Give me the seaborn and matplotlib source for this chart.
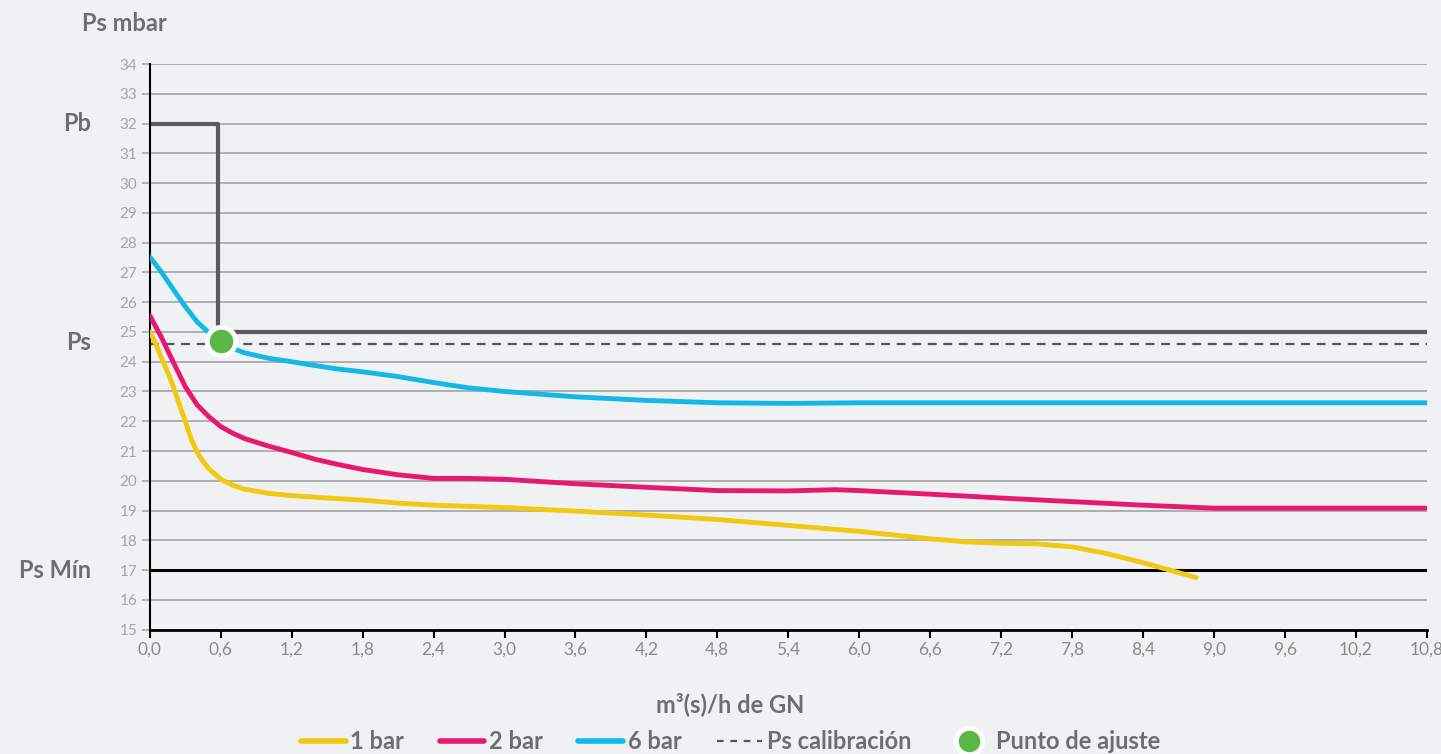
import numpy as np
import pandas as pd
import matplotlib
matplotlib.use("Agg")
import matplotlib.pyplot as plt
import seaborn as sns
from matplotlib.lines import Line2D

# caudal (m3/h) vs presion de salida (mbar)
x_1bar = [0.0, 0.05, 0.1, 0.15, 0.2, 0.25, 0.3, 0.35, 0.4, 0.45, 0.5, 0.6, 0.7, 0.8, 1.0, 1.2, 1.5, 1.8, 2.1,
          2.4, 3.0, 3.6, 4.2, 4.8, 5.4, 6.0, 6.6, 6.9, 7.2, 7.5, 7.8, 8.1, 8.4, 8.85]
y_1bar = [25.0, 24.6, 24.1, 23.65, 23.15, 22.55, 22.0, 21.4, 20.95, 20.65, 20.4, 20.05, 19.85, 19.72, 19.58,
          19.5, 19.42, 19.35, 19.25, 19.18, 19.1, 18.98, 18.85, 18.7, 18.5, 18.3, 18.05, 17.95, 17.9, 17.88,
          17.78, 17.55, 17.25, 16.75]

x_2bar = [0.0, 0.1, 0.2, 0.3, 0.4, 0.5, 0.6, 0.7, 0.8, 1.0, 1.2, 1.4, 1.6, 1.8, 2.1, 2.4, 2.7, 3.0, 3.6, 4.2,
          4.8, 5.4, 5.8, 6.0, 6.6, 7.2, 7.8, 8.4, 9.0, 9.6, 10.2, 10.8]
y_2bar = [25.55, 24.8, 23.97, 23.16, 22.55, 22.15, 21.82, 21.6, 21.42, 21.17, 20.95, 20.72, 20.54, 20.38,
          20.2, 20.08, 20.08, 20.05, 19.9, 19.78, 19.67, 19.66, 19.7, 19.67, 19.55, 19.42, 19.3, 19.18,
          19.08, 19.08, 19.08, 19.08]

x_6bar = [0.0, 0.1, 0.2, 0.3, 0.4, 0.5, 0.6, 0.7, 0.8, 1.0, 1.2, 1.4, 1.6, 1.8, 2.1, 2.4, 2.7, 3.0, 3.6, 4.2,
          4.8, 5.4, 6.0, 7.2, 8.4, 9.6, 10.8]
y_6bar = [27.52, 27.0, 26.42, 25.85, 25.34, 24.97, 24.67, 24.45, 24.3, 24.12, 24.0, 23.87, 23.75, 23.66, 23.5,
          23.3, 23.12, 23.0, 22.82, 22.7, 22.62, 22.6, 22.62, 22.62, 22.62, 22.62, 22.62]

x_pb = [0.0, 0.58, 0.58, 10.8]
y_pb = [32.0, 32.0, 25.0, 25.0]
ps_calib = 24.6
ps_min = 17.0
ajuste_x, ajuste_y = 0.6, 24.7

x_ticks = [round(0.6 * i, 1) for i in range(19)]
x_labels = [f"{v:.1f}".replace(".", ",") for v in x_ticks]
y_ticks = list(range(15, 35))

bg = "#f0f1f3"
label_gray = "#6d6e71"

sns.set_theme(style="white", rc={"axes.facecolor": bg, "figure.facecolor": bg})
plt.rcParams["font.family"] = ["Lato", "DejaVu Sans"]

fig, ax = plt.subplots(figsize=(14.41, 7.54), dpi=100)
fig.subplots_adjust(left=0.104, right=0.990, top=0.915, bottom=0.165)

for yv in y_ticks:
    ax.axhline(yv, color="#aaaaaa", lw=1.3, zorder=0)
ax.axhline(ps_min, color="black", lw=2.2, zorder=1)
ax.axhline(ps_calib, color="#555555", lw=1.6, ls=(0, (4, 3)), zorder=1)
sns.lineplot(x=x_pb, y=y_pb, ax=ax, color="#5a5b5d", lw=3, sort=False, estimator=None, zorder=2)

curves = [(x_1bar, y_1bar, "#f2c811"), (x_2bar, y_2bar, "#e8176f"), (x_6bar, y_6bar, "#12b9e8")]
for xs, ys, c in curves:
    sns.lineplot(x=xs, y=ys, ax=ax, color=c, lw=3.5, sort=False, estimator=None, zorder=3,
                 solid_capstyle="round", solid_joinstyle="round")

ax.scatter([ajuste_x], [ajuste_y], s=420, color="#5bb847", edgecolor="white", linewidth=3.5, zorder=5)

ax.set_xlim(0, 10.8)
ax.set_ylim(15, 34)
ax.set_xticks(x_ticks)
ax.set_xticklabels(x_labels)
ax.set_yticks(y_ticks)
ax.tick_params(axis="x", direction="out", length=6, width=1.5, color="black", labelsize=12.5,
               labelcolor="#8a8a8a", pad=3, bottom=True)
ax.tick_params(axis="y", direction="out", length=6, width=1.2, color="#aaaaaa", labelsize=11,
               labelcolor="#a5a5a5", pad=3, left=True)
for s in ["top", "right"]:
    ax.spines[s].set_visible(False)
ax.spines["left"].set_color("black")
ax.spines["left"].set_linewidth(1.5)
ax.spines["bottom"].set_color("black")
ax.spines["bottom"].set_linewidth(2)

ax.set_xlabel("")
ax.set_ylabel("")
fig.text(0.057, 0.969, "Ps mbar", ha="left", va="center", fontsize=17, fontweight="bold", color=label_gray)
for txt, yv in [("Pb", 32), ("Ps", ps_calib + 0.05), ("Ps Mín", ps_min)]:
    ax.text(-0.5, yv, txt, ha="right", va="center", fontsize=17, fontweight="bold", color=label_gray,
            transform=ax.transData, clip_on=False)
fig.text(0.507, 0.066, "m³(s)/h de GN", ha="center", va="center", fontsize=17, fontweight="bold",
         color=label_gray)

handles = [
    Line2D([], [], color="#f2c811", lw=4),
    Line2D([], [], color="#e8176f", lw=4),
    Line2D([], [], color="#12b9e8", lw=4),
    Line2D([], [], color="#555555", lw=1.6, ls=(0, (3, 3))),
    Line2D([], [], marker="o", ls="", markersize=19, markerfacecolor="#5bb847", markeredgecolor="white",
           markeredgewidth=3.5),
]
labels = ["1 bar", "2 bar", "6 bar", "Ps calibración", "Punto de ajuste"]
leg = fig.legend(handles, labels, loc="center", bbox_to_anchor=(0.507, 0.016), ncol=5, frameon=False,
                 fontsize=17, handlelength=1.9, handletextpad=0.2, columnspacing=1.5)
for t in leg.get_texts():
    t.set_color(label_gray)
    t.set_fontweight("bold")

fig.savefig("out.png", dpi=100, facecolor=bg)
